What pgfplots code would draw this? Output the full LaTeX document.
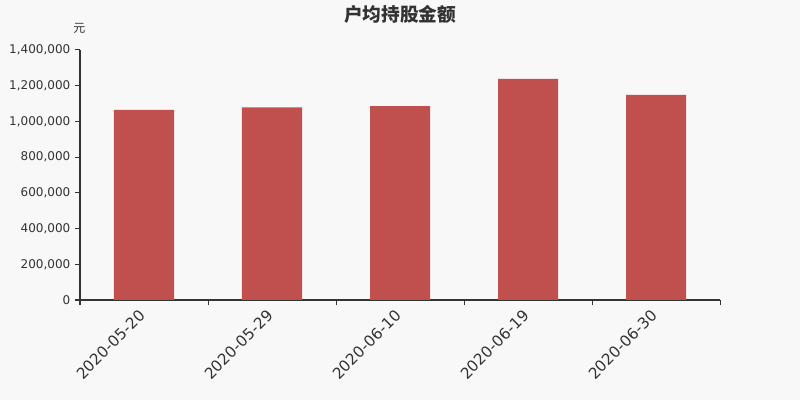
\documentclass[border=0pt]{standalone}
\usepackage{fontspec}
\setmainfont{DejaVu Sans}
\newfontfamily\cjk{Noto Sans CJK SC}
\usepackage{pgfplots}
\pgfplotsset{compat=1.18}
\definecolor{bg}{HTML}{F8F8F8}
\definecolor{barred}{HTML}{C0504D}
\definecolor{axisgray}{HTML}{333333}

\begin{document}
\begin{tikzpicture}
  \fill[bg] (0,0) rectangle (600pt,300pt);
  \useasboundingbox (0,0) rectangle (600pt,300pt);
  \begin{axis}[
      at={(60pt,75pt)}, anchor=south west,
      scale only axis, width=480pt, height=187.5pt,
      xmin=-0.5, xmax=4.5, ymin=0, ymax=1400000,
      ybar, bar width=45pt,
      axis lines*=left,
      axis line style={draw=axisgray, line width=0.75pt},
      tick align=outside,
      major tick length=3.75pt, minor tick length=3.75pt,
      tick style={draw=axisgray, line width=0.75pt},
      xtick={0,...,4},
      xticklabels={2020-05-20,2020-05-29,2020-06-10,2020-06-19,2020-06-30},
      major x tick style={draw=none},
      minor xtick={-0.5,0.5,1.5,2.5,3.5,4.5},
      ytick={0,200000,...,1400000},
      scaled y ticks=false,
      /pgf/number format/assume math mode=true,
      /pgf/number format/fixed,
      /pgf/number format/1000 sep={,},
      y tick label style={font=\fontsize{9}{11}\selectfont, text=axisgray},
      x tick label style={xshift=-4.5pt, yshift=2pt, rotate=45, anchor=north east,
        font=\fontsize{11.5}{13}\selectfont, text=axisgray},
    ]
    \addplot[fill=barred, draw=none] coordinates {
      (0,1064000) (1,1079000) (2,1086000) (3,1238000) (4,1148000)
    };
  \end{axis}
  \node[font=\cjk\bfseries\fontsize{14}{16}\selectfont, text=axisgray]
    at (300pt,289.5pt) {户均持股金额};
  \node[font=\cjk\fontsize{9}{11}\selectfont, text=axisgray]
    at (59.5pt,278.6pt) {元};
\end{tikzpicture}
\end{document}
